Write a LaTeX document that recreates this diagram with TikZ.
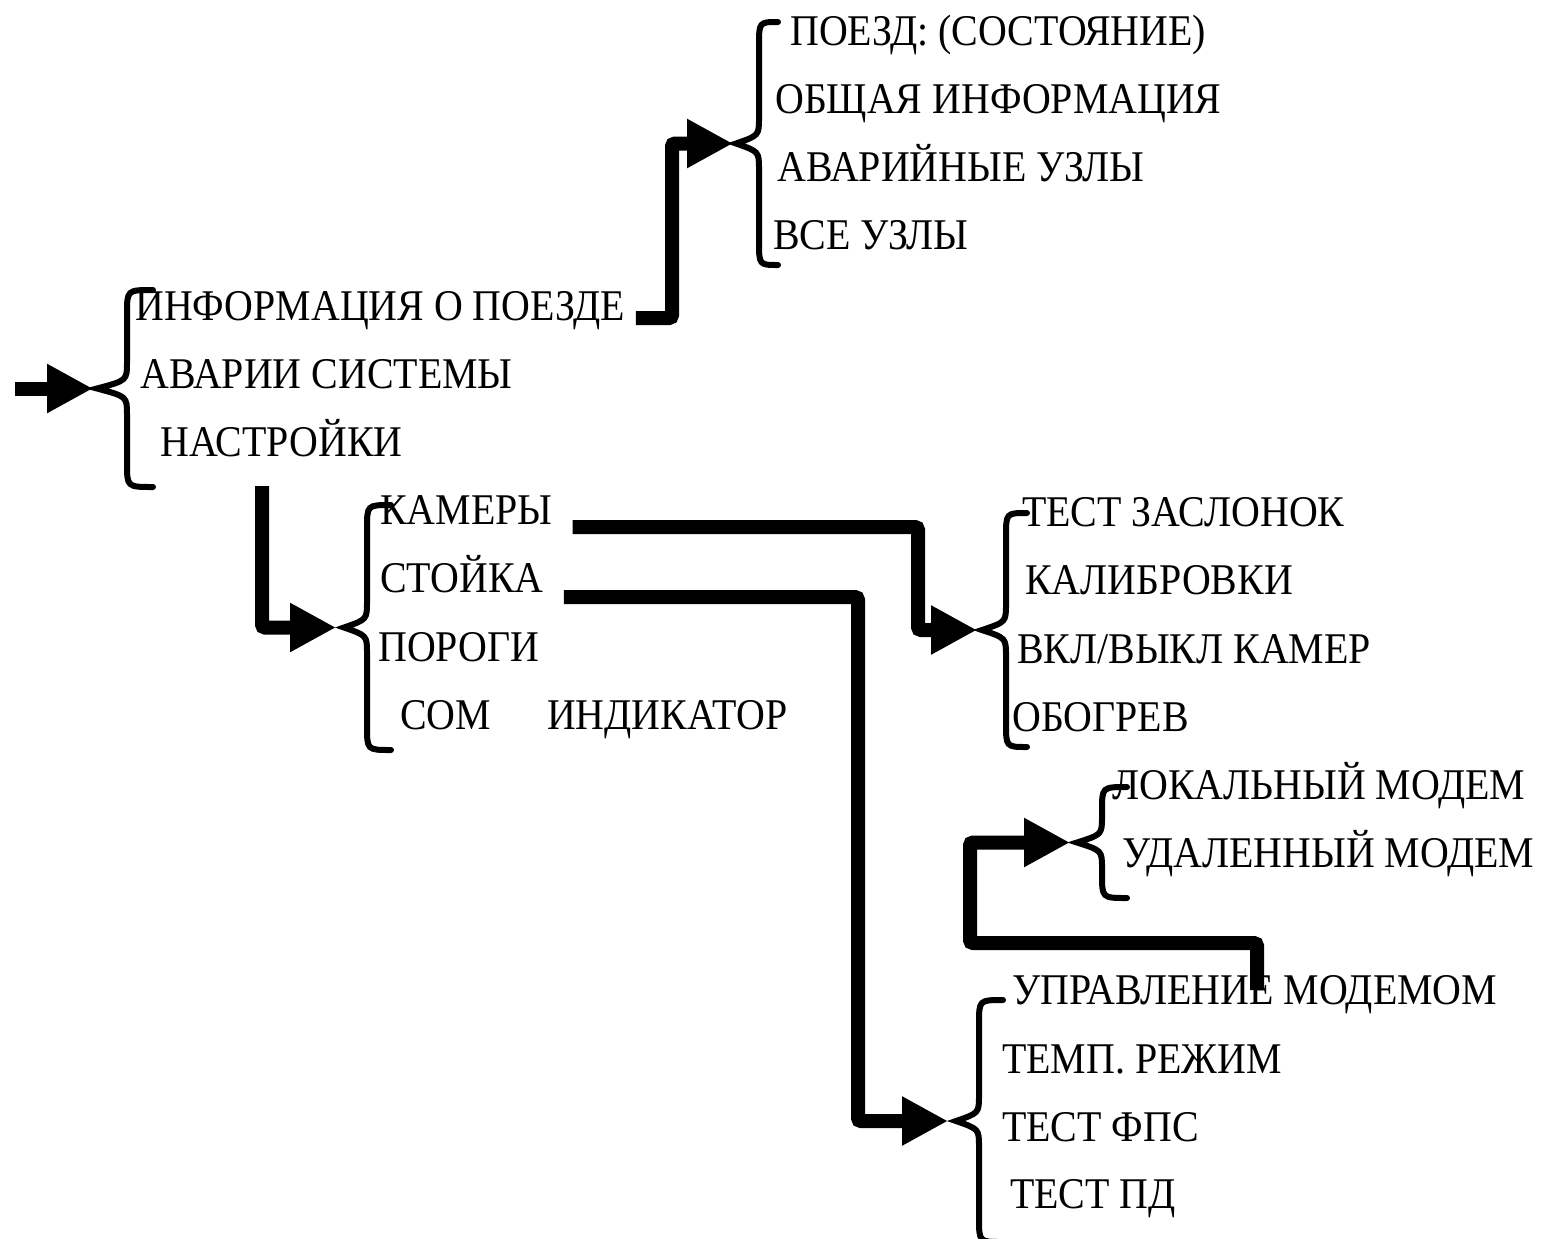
\documentclass[tikz,border=0pt]{standalone}
\usepackage{fontspec}
\newfontfamily\tfont[FakeStretch=0.91]{Liberation Serif}
\usetikzlibrary{arrows.meta}
% #1 end x, #2 vertical x, #3 tip x, #4 top y, #5 bottom y
\newcommand\cbrace[5]{%
  \draw[brc] (#1,#4) .. controls (#2,#4) .. (#2,{#4+24})
    -- (#2,{(#4+#5)/2-26}) .. controls (#2,{(#4+#5)/2-8}) .. (#3,{(#4+#5)/2})
    .. controls (#2,{(#4+#5)/2+8}) .. (#2,{(#4+#5)/2+26})
    -- (#2,{#5-24}) .. controls (#2,#5) .. (#1,#5);}
\begin{document}
\begin{tikzpicture}[x=1bp,y=-1bp,
  txt/.style={anchor=base west,inner sep=0pt,font=\tfont\fontsize{44}{48}\selectfont},
  brc/.style={line width=6bp,line join=miter,line cap=round},
  conn/.style={line width=14bp,-{Triangle[length=46bp,width=46bp]},rounded corners=3bp}]
\useasboundingbox (0,0) rectangle (1545,1238);
% group 1
\node[txt] (p1) at (790,45) {ПОЕЗД: (СОСТОЯНИЕ)};
\node[txt] (p2) at (775,113) {ОБЩАЯ ИНФОРМАЦИЯ};
\node[txt] (p3) at (777,181) {АВАРИЙНЫЕ УЗЛЫ};
\node[txt] (p4) at (773,249) {ВСЕ УЗЛЫ};
\cbrace{778}{759}{736}{22}{265}
\coordinate (t1) at (736,143.5);
% group 2
\node[txt] (info) at (135,320) {ИНФОРМАЦИЯ О ПОЕЗДЕ};
\node[txt] (avar) at (140,388) {АВАРИИ СИСТЕМЫ};
\node[txt] (nast) at (160,456) {НАСТРОЙКИ};
\cbrace{153}{127}{97}{290}{487}
\coordinate (t2) at (97,388.5);
\coordinate (start) at (15,388.5);
% group 3
\node[txt] (kam) at (380,524) {КАМЕРЫ};
\node[txt] (stoi) at (380,592) {СТОЙКА};
\node[txt] (por) at (378,661) {ПОРОГИ};
\node[txt] (com) at (400,729) {COM\hspace{56bp}ИНДИКАТОР};
\cbrace{391}{367}{344}{505}{750}
\coordinate (t3) at (344,627.5);
% group 4
\node[txt] (z1) at (1022,526) {ТЕСТ ЗАСЛОНОК};
\node[txt] (z2) at (1025,594) {КАЛИБРОВКИ};
\node[txt] (z3) at (1017,663) {ВКЛ/ВЫКЛ КАМЕР};
\node[txt] (z4) at (1012,731) {ОБОГРЕВ};
\cbrace{1027}{1006}{982}{513}{747}
\coordinate (t4) at (982,630);
% group 5
\node[txt] (m1) at (1112,799) {ЛОКАЛЬНЫЙ МОДЕМ};
\node[txt] (m2) at (1122,867) {УДАЛЕННЫЙ МОДЕМ};
\cbrace{1127}{1102}{1077}{787}{898}
\coordinate (t5) at (1077,842.5);
% group 6
\node[txt] (u1) at (1012,1004) {УПРАВЛЕНИЕ МОДЕМОМ};
\node[txt] (u2) at (1002,1073) {ТЕМП. РЕЖИМ};
\node[txt] (u3) at (1002,1141) {ТЕСТ ФПС};
\node[txt] (u4) at (1010,1208) {ТЕСТ ПД};
\cbrace{1003}{979}{956}{1000}{1242}
\coordinate (t6) at (956,1121);
% connectors
\draw[conn] (start) -- ([xshift=-4bp]t2);
\draw[conn] ([xshift=11bp,yshift=2bp]info.base east) -| (672,143.5) -- ([xshift=-3bp]t1);
\draw[conn] ([xshift=102bp,yshift=-30bp]nast.base west) |- ([xshift=-8bp]t3);
\draw[conn] ([xshift=20bp,yshift=-3bp]kam.base east) -| (918,630) -- ([xshift=-5bp]t4);
\draw[conn] ([xshift=20bp,yshift=-5bp]stoi.base east) -| (858,1121) -- ([xshift=-8bp]t6);
\draw[conn] ([xshift=245bp,yshift=14bp]u1.base west) |- (970,943) |- ([xshift=-7bp]t5);
\end{tikzpicture}
\end{document}
